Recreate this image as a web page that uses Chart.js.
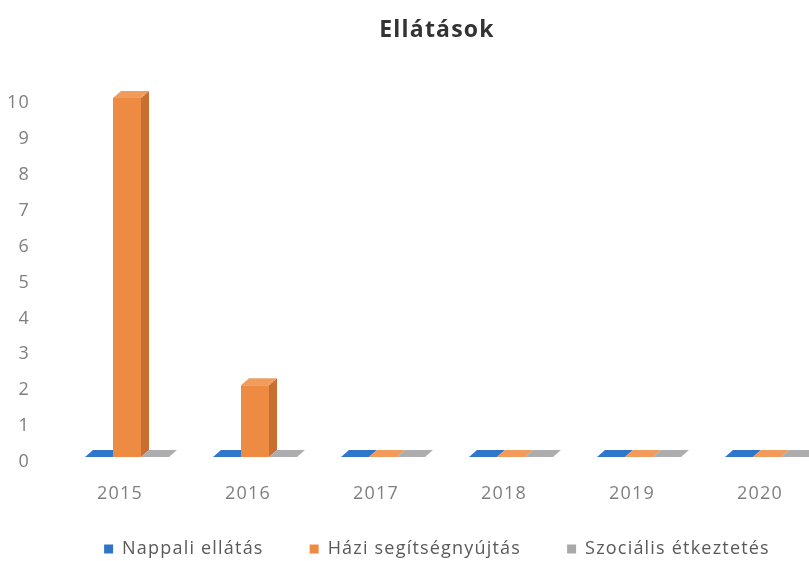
<!DOCTYPE html>
<html>
<head>
<meta charset="utf-8">
<title>Ellátások</title>
<script src="https://cdn.jsdelivr.net/npm/chart.js@4.4.1/dist/chart.umd.min.js"></script>
<style>
  html, body { margin: 0; padding: 0; background: #ffffff; overflow: hidden; }
  #wrap { width: 809px; height: 561px; overflow: hidden; position: relative; }
  canvas { display: block; }
</style>
</head>
<body>
<div id="wrap"><canvas id="chart" width="874" height="561" style="width:874px;height:561px"></canvas></div>
<script>
// Years on the category axis
const categories = ['2015', '2016', '2017', '2018', '2019', '2020'];
// Number of recipients per service
const nappaliEllatas = [0, 0, 0, 0, 0, 0];
const haziSegitsegnyujtas = [10, 2, 0, 0, 0, 0];
const szocialisEtkeztetes = [0, 0, 0, 0, 0, 0];
// Value axis ticks
const yTicks = [0, 1, 2, 3, 4, 5, 6, 7, 8, 9, 10];

// Face shades for the pseudo-3D columns (front / right side / top)
const shades = [
  { front: '#2E75C8', side: '#1F5CA6', top: '#2F77CC' },
  { front: '#EE8B43', side: '#C96D30', top: '#F19C5C' },
  { front: '#A9A9A9', side: '#8E8E8E', top: '#ADADAD' }
];
const DEPTH_X = 8, DEPTH_Y = 7;
const LETTER_SPACING = '1.2px';
const LEGEND_TEXT_CENTER = 549;

function poly(ctx, pts) {
  ctx.beginPath();
  ctx.moveTo(pts[0][0], pts[0][1]);
  for (let k = 1; k < pts.length; k++) ctx.lineTo(pts[k][0], pts[k][1]);
  ctx.closePath();
  ctx.fill();
}

// Draws each column as a box: right side, front, then top face
const columns3d = {
  id: 'columns3d',
  beforeLayout(chart) {
    chart.ctx.letterSpacing = LETTER_SPACING;
    const lg = chart.legend;
    if (lg && !lg._fixedHeight) {
      const fit = lg.fit;
      lg.fit = function () { fit.call(this); this.height = 31; };
      lg._fixedHeight = true;
    }
  },
  afterLayout(chart) {
    // let the wide legend padding sit over the empty band under the axis labels
    const lg = chart.legend;
    if (lg) {
      const pad = lg.options.labels.padding;
      const size = lg.options.labels.font.size;
      lg.top = LEGEND_TEXT_CENTER - size / 2 - pad;
      lg.bottom = chart.height;
      lg.height = lg.bottom - lg.top;
    }
  },
  beforeDraw(chart) {
    chart.ctx.letterSpacing = LETTER_SPACING;
  },
  beforeDatasetsDraw(chart) {
    const ctx = chart.ctx;
    const metas = chart.getSortedVisibleDatasetMetas();
    const n = chart.data.labels.length;
    ctx.save();
    for (let i = 0; i < n; i++) {
      for (const meta of metas) {
        const el = meta.data[i];
        if (!el) continue;
        const sh = shades[meta.index];
        const p = el.getProps(['x', 'y', 'base', 'width'], true);
        const l = p.x - p.width / 2, r = p.x + p.width / 2;
        const top = Math.min(p.y, p.base), bottom = Math.max(p.y, p.base);
        if (bottom - top > 0.5) {
          ctx.fillStyle = sh.side;
          poly(ctx, [[r, top], [r + DEPTH_X, top - DEPTH_Y], [r + DEPTH_X, bottom - DEPTH_Y], [r, bottom]]);
          ctx.fillStyle = sh.front;
          ctx.fillRect(l, top, p.width, bottom - top);
        }
        ctx.fillStyle = sh.top;
        poly(ctx, [[l, top], [r, top], [r + DEPTH_X, top - DEPTH_Y], [l + DEPTH_X, top - DEPTH_Y]]);
      }
    }
    ctx.restore();
    return false;
  }
};

const tickFont = { family: "'Open Sans', 'Noto Sans', sans-serif", size: 18 };

new Chart(document.getElementById('chart'), {
  type: 'bar',
  data: {
    labels: categories,
    datasets: [
      { label: 'Nappali ellátás', data: nappaliEllatas, backgroundColor: shades[0].front },
      { label: 'Házi segítségnyújtás', data: haziSegitsegnyujtas, backgroundColor: shades[1].front },
      { label: 'Szociális étkeztetés', data: szocialisEtkeztetes, backgroundColor: shades[2].front }
    ]
  },
  options: {
    responsive: false,
    animation: false,
    devicePixelRatio: 1,
    layout: { padding: 0 },
    datasets: { bar: { barPercentage: 1, categoryPercentage: 0.656 } },
    scales: {
      x: {
        grid: { display: false, drawTicks: false },
        border: { display: false },
        ticks: { color: '#7F7F7F', font: tickFont, padding: 26, labelOffset: -7, maxRotation: 0 },
        afterFit(s) { s.height = 73; }
      },
      y: {
        min: 0, max: 10,
        grid: { display: false, drawTicks: false },
        border: { display: false },
        afterBuildTicks(s) { s.ticks = yTicks.map(v => ({ value: v })); },
        ticks: { color: '#7F7F7F', font: tickFont, padding: 33, labelOffset: 5 },
        afterFit(s) { s.width = 63; }
      },
      yRight: {
        position: 'right',
        min: 0, max: 10,
        grid: { display: false, drawTicks: false },
        border: { display: false },
        ticks: { display: false },
        afterFit(s) { s.width = 43; }
      }
    },
    plugins: {
      title: {
        display: true,
        text: 'Ellátások',
        color: '#333333',
        font: { family: "'Open Sans', 'Noto Sans', sans-serif", size: 23, weight: 'bold' },
        padding: { top: 17, bottom: 53.4 }
      },
      legend: {
        position: 'bottom',
        labels: {
          color: '#595959',
          font: { family: "'Open Sans', 'Noto Sans', sans-serif", size: 18 },
          boxWidth: 9, boxHeight: 9,
          padding: 46
        }
      },
      tooltip: { enabled: false }
    }
  },
  plugins: [columns3d]
});
</script>
</body>
</html>
